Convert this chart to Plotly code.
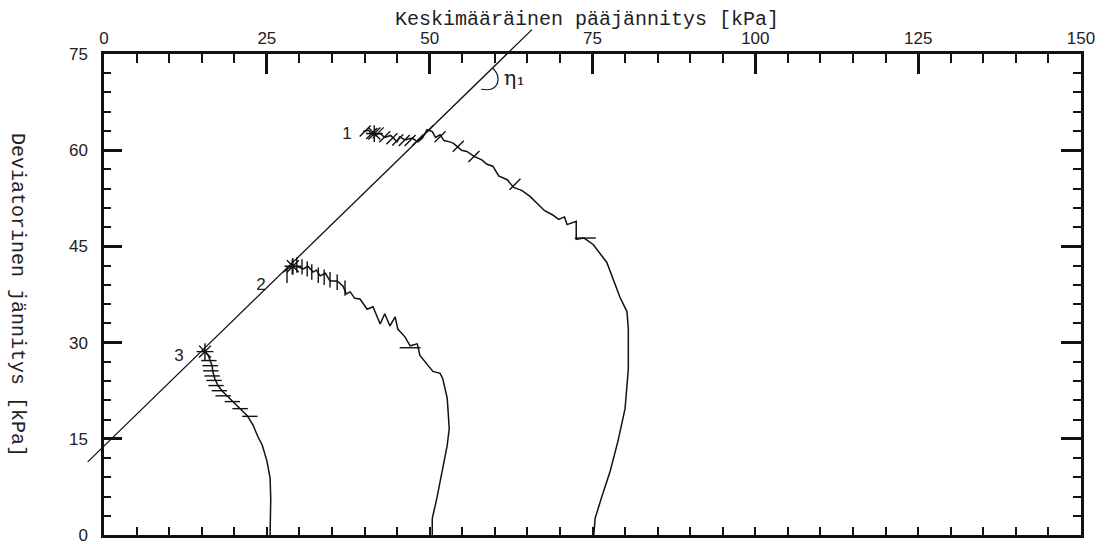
import plotly.graph_objects as go

# ---- data (kPa) ----
x_ticks = [0, 25, 50, 75, 100, 125, 150]
y_ticks = [0, 15, 30, 45, 60, 75]

# stress path 1
c1_p = [75.2, 75.4, 76.5, 77.7, 78.9, 80.0, 80.5, 80.5, 80.3, 79.2, 77.2, 75.1, 73.7, 72.5, 72.5,
        71.1, 70.7, 69.8, 68.9, 67.6, 66.6, 65.4, 64.2, 62.9, 61.9, 60.6, 59.7, 58.8, 58.0, 56.9,
        55.7, 54.9, 54.2, 53.6, 53.1, 52.2, 51.6, 50.9, 50.4, 49.6, 48.9, 48.2, 47.3, 46.2, 45.4,
        45.0, 44.0, 43.1, 42.4, 41.3, 40.6, 39.8]
c1_q = [0.0, 2.6, 6.2, 9.9, 14.6, 19.7, 25.9, 32.1, 34.8, 37.1, 42.5, 45.3, 46.3, 46.1, 48.9,
        48.4, 49.6, 49.2, 49.9, 50.6, 51.6, 52.8, 53.7, 54.2, 55.4, 56.0, 57.5, 57.8, 58.5, 59.0,
        59.8, 60.0, 60.6, 61.1, 61.3, 61.5, 62.4, 62.0, 62.9, 63.2, 61.9, 61.3, 61.9, 61.6, 62.1,
        61.3, 62.3, 62.0, 62.6, 62.4, 63.1, 62.9]

# stress path 2
c2_p = [50.4, 50.4, 51.1, 51.9, 52.7, 53.0, 52.7, 52.0, 51.6, 50.5, 49.6, 48.5, 48.1, 47.0,
        46.2, 45.1, 44.7, 43.9, 43.1, 42.4, 41.3, 40.4, 39.3, 38.5, 37.8, 37.2, 36.7, 35.8, 34.7,
        34.0, 33.2, 32.6, 32.1, 31.3, 30.6, 29.6, 28.6, 27.5]
c2_q = [0.0, 2.6, 5.7, 9.9, 14.0, 16.6, 21.3, 24.4, 25.2, 25.5, 26.7, 28.0, 29.8, 29.5,
        30.9, 32.1, 34.0, 32.6, 34.5, 32.9, 35.6, 35.2, 36.8, 36.9, 37.9, 37.6, 38.8, 39.6, 39.6,
        40.8, 40.4, 41.3, 41.0, 41.9, 41.5, 41.9, 41.8, 41.0]

# stress path 3
c3_p = [25.5, 25.6, 25.5, 25.0, 24.3, 23.6, 22.9, 22.0, 20.9, 19.8, 18.9, 18.1, 17.5, 17.0,
        16.7, 16.6, 16.3, 16.0, 15.5]
c3_q = [0.0, 5.7, 8.9, 11.6, 14.0, 15.4, 17.1, 18.6, 19.7, 20.8, 21.7, 22.5, 23.3, 24.4,
        25.5, 26.4, 27.2, 28.0, 28.6]

# small measurement tick marks along the paths
t1_p = [40.1, 41.1, 42.1, 43.1, 44.2, 45.1, 46.1, 47.0, 48.2, 49.7, 51.6, 54.4, 56.8, 63.1]
t1_q = [63.0, 62.6, 62.7, 62.1, 61.8, 61.6, 61.5, 61.5, 61.6, 63.0, 62.1, 60.6, 59.0, 54.7]
t2_p = [28.1, 28.9, 29.6, 30.4, 31.2, 31.9, 32.9, 33.8, 34.7, 35.8, 37.0]
t2_q = [40.5, 41.8, 42.1, 41.8, 41.5, 41.0, 40.5, 40.2, 39.8, 39.4, 38.5]
t3_p = [16.1, 16.3, 16.4, 16.6, 16.9, 17.2, 17.7, 18.3, 19.7, 20.9, 22.4]
t3_q = [27.2, 26.4, 25.6, 24.8, 24.1, 23.3, 22.5, 21.7, 20.8, 19.7, 18.5]
h_p = [73.9, 47.0]
h_q = [46.3, 29.2]
star_p = [15.5, 29.0, 41.5]
star_q = [28.6, 41.9, 62.6]

# failure line
fl_p = [-2.5, 65.7]
fl_q = [11.4, 78.8]

# angle arc + label
arc_p = [59.7, 60.4, 60.3, 59.4, 57.9]
arc_q = [72.8, 71.7, 70.2, 69.5, 69.5]
eta_p, eta_q = [63.0], [71.0]

lab_text = ["1", "2", "3"]
lab_p = [37.3, 24.1, 11.5]
lab_q = [62.4, 38.8, 27.8]

# ---- layout geometry ----
W, H = 1109, 544
ml, mr, mt, mb = 80, 28, 12, 9
pw, ph = W - ml - mr, H - mt - mb
x0px, y0px = 104, 54          # main frame left/top in px
xd0 = (x0px - ml) / pw
yd1 = (H - mb - y0px) / ph
xs = (pw * (1 - xd0)) / 150.0
ys = (ph * yd1) / 75.0
ov_xr = [-(x0px - ml) / xs, 150]
ov_yr = [0, ph / ys]
ytitle_x = (18 - ml) / pw      # paper coords of the rotated y title
ytitle_y = (H - mb - 295) / ph
xtitle_x = (587 - ml) / pw
xtitle_y = (H - mb - 20) / ph

INK = "#111111"
fig = go.Figure()

for p, q in [(c1_p, c1_q), (c2_p, c2_q), (c3_p, c3_q)]:
    fig.add_trace(go.Scatter(x=p, y=q, mode="lines",
                             line=dict(color=INK, width=1.5), hoverinfo="skip"))

fig.add_trace(go.Scatter(x=t1_p, y=t1_q, mode="markers",
                         marker=dict(symbol="line-ne", size=11, line=dict(color=INK, width=1.4))))
fig.add_trace(go.Scatter(x=t2_p, y=t2_q, mode="markers",
                         marker=dict(symbol="line-ns", size=11, line=dict(color=INK, width=1.4))))
fig.add_trace(go.Scatter(x=t3_p, y=t3_q, mode="markers",
                         marker=dict(symbol="line-ew", size=11, line=dict(color=INK, width=1.4))))
fig.add_trace(go.Scatter(x=h_p, y=h_q, mode="markers",
                         marker=dict(symbol="line-ew", size=15, line=dict(color=INK, width=1.4))))
fig.add_trace(go.Scatter(x=star_p, y=star_q, mode="markers",
                         marker=dict(symbol="asterisk", size=14, line=dict(color=INK, width=1.4))))
fig.add_trace(go.Scatter(x=arc_p, y=arc_q, mode="lines", line_shape="spline",
                         line=dict(color=INK, width=1.2)))

# failure line on full-size overlay subplot (not clipped by the frame)
fig.add_trace(go.Scatter(x=fl_p, y=fl_q, mode="lines", xaxis="x2", yaxis="y2",
                         line=dict(color=INK, width=1.3), hoverinfo="skip"))

# path labels on overlaying axes (also creates the bottom/right tick axes)
fig.add_trace(go.Scatter(x=lab_p, y=lab_q, mode="text", text=lab_text, xaxis="x3", yaxis="y3",
                         textfont=dict(family="Liberation Sans", size=17, color="#222")))
fig.add_trace(go.Scatter(x=eta_p, y=eta_q, mode="text", text=["η₁"], xaxis="x3", yaxis="y3",
                         textfont=dict(family="DejaVu Serif", size=21, color="#222")))

tickfont = dict(family="Liberation Sans", size=17, color="#222")
titlefont = dict(family="Liberation Mono", size=20, color="#222")

fig.update_layout(
    width=W, height=H, margin=dict(l=ml, r=mr, t=mt, b=mb, autoexpand=False),
    paper_bgcolor="white", plot_bgcolor="rgba(0,0,0,0)", showlegend=False,
    xaxis=dict(domain=[xd0, 1], range=[0, 150], side="top", anchor="y", automargin=False,
               tickvals=x_ticks, ticks="inside", ticklen=20, tickwidth=2.5, tickcolor=INK,
               showline=True, linewidth=2.5, linecolor=INK, showgrid=False, zeroline=False,
               tickfont=tickfont, ticklabeloverflow="allow",
               minor=dict(dtick=5, tick0=0, ticks="inside", ticklen=9, tickwidth=2.2,
                          tickcolor=INK, showgrid=False)),
    xaxis3=dict(overlaying="x", side="bottom", anchor="y", range=[0, 150], dtick=5, tick0=0,
                automargin=False,
                ticks="inside", ticklen=8, tickwidth=2.2, tickcolor=INK, showticklabels=False,
                showline=True, linewidth=2.5, linecolor=INK, showgrid=False, zeroline=False),
    yaxis=dict(domain=[0, yd1], range=[0, 75], side="left", anchor="x", automargin=False,
               tickvals=y_ticks, ticks="inside", ticklen=18, tickwidth=2.5, tickcolor=INK,
               showline=True, linewidth=2.5, linecolor=INK, showgrid=False, zeroline=False,
               tickfont=tickfont, ticklabelstandoff=10, ticklabeloverflow="allow",
               minor=dict(dtick=3, tick0=0, ticks="inside", ticklen=7, tickwidth=2.2,
                          tickcolor=INK, showgrid=False)),
    yaxis3=dict(overlaying="y", side="right", anchor="x", range=[0, 75], automargin=False,
                tickvals=y_ticks, ticks="inside", ticklen=20, tickwidth=2.5, tickcolor=INK,
                showticklabels=False, showline=True, linewidth=2.5, linecolor=INK,
                showgrid=False, zeroline=False,
                minor=dict(dtick=3, tick0=0, ticks="inside", ticklen=8, tickwidth=2.2,
                           tickcolor=INK, showgrid=False)),
    xaxis2=dict(domain=[0, 1], range=ov_xr, anchor="y2", visible=False, fixedrange=True,
                automargin=False),
    yaxis2=dict(domain=[0, 1], range=ov_yr, anchor="x2", visible=False, fixedrange=True,
                automargin=False),
    annotations=[
        dict(text="Deviatorinen jännitys [kPa]", textangle=90, showarrow=False,
             xref="paper", yref="paper", x=ytitle_x, y=ytitle_y,
             xanchor="center", yanchor="middle", font=titlefont),
        dict(text="Keskimääräinen pääjännitys [kPa]", showarrow=False,
             xref="paper", yref="paper", x=xtitle_x, y=xtitle_y,
             xanchor="center", yanchor="middle", font=titlefont),
    ],
)

fig.write_html("out.html")
